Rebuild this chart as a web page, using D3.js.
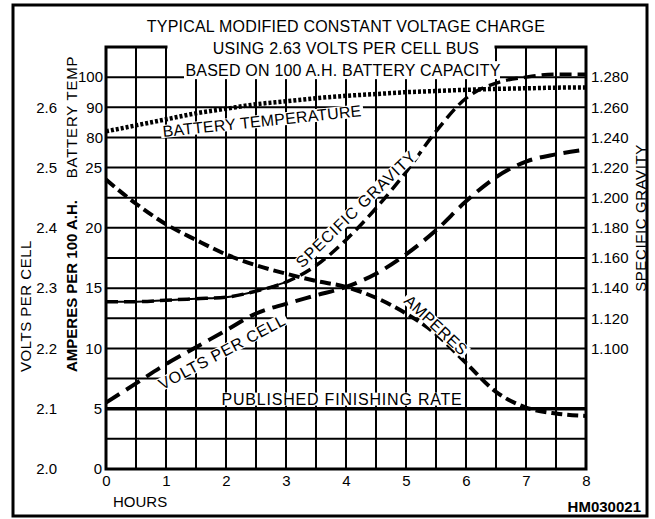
<!DOCTYPE html>
<html>
<head>
<meta charset="utf-8">
<script src="https://cdn.jsdelivr.net/npm/d3@7"></script>
<style>
  body { margin: 0; background: #fff; }
  svg text { font-family: "Liberation Sans", Arial, sans-serif; fill: #000; }
</style>
</head>
<body>
<div id="chart"></div>
<script>
// values, one point every half hour
var hours = [0, 0.5, 1, 1.5, 2, 2.5, 3, 3.5, 4, 4.5, 5, 5.5, 6, 6.5, 7, 7.5, 8];
var amperes = [24.0, 22.0, 20.3, 19.0, 17.8, 16.9, 16.2, 15.6, 15.1, 14.2, 12.9, 11.2, 8.8, 6.4, 5.1, 4.6, 4.4];
var voltsPerCell = [2.110, 2.142, 2.174, 2.202, 2.230, 2.258, 2.274, 2.288, 2.302, 2.324, 2.356, 2.396, 2.444, 2.484, 2.510, 2.522, 2.530];
var specificGravity = [1.131, 1.131, 1.132, 1.133, 1.134, 1.138, 1.144, 1.155, 1.172, 1.193, 1.217, 1.244, 1.266, 1.276, 1.280, 1.282, 1.282];
var batteryTemp = [82, 84, 86, 88, 89.5, 91, 92, 93, 93.8, 94.4, 95, 95.4, 95.8, 96.1, 96.3, 96.5, 96.6];
var finishingRate = 5;

var hourTicks = [0, 1, 2, 3, 4, 5, 6, 7, 8];
var ampTicks = [0, 5, 10, 15, 20, 25];
var voltTicks = [2.0, 2.1, 2.2, 2.3, 2.4, 2.5, 2.6];
var tempTicks = [80, 90, 100];
var sgTicks = [1.10, 1.12, 1.14, 1.16, 1.18, 1.20, 1.22, 1.24, 1.26, 1.28];

var titleLines = ["TYPICAL MODIFIED CONSTANT VOLTAGE CHARGE", "USING 2.63 VOLTS PER CELL BUS", "BASED ON 100 A.H. BATTERY CAPACITY"];

var svgWidth = 655;
var svgHeight = 519;

var svg = d3.select("#chart")
  .append("svg")
  .attr("width", svgWidth)
  .attr("height", svgHeight);

// scales: every left/right axis maps onto the same pixel range
var x = d3.scaleLinear().domain([0, 8]).range([106, 586]);
var yA = d3.scaleLinear().domain([0, 35]).range([469, 47]);
var yV = d3.scaleLinear().domain([2.0, 2.7]).range([469, 47]);
var yT = d3.scaleLinear().domain([-30, 110]).range([469, 47]);
var yS = d3.scaleLinear().domain([1.02, 1.30]).range([469, 47]);

// outer frame
svg.append("rect")
  .attr("x", 13).attr("y", 5)
  .attr("width", 634).attr("height", 511)
  .attr("fill", "none").attr("stroke", "#000").attr("stroke-width", 3);

// grid
var grid = svg.append("g").attr("stroke", "#000").attr("stroke-width", 2);
d3.range(0, 8.01, 0.5).forEach(function(h) {
  grid.append("line")
    .attr("x1", x(h)).attr("x2", x(h))
    .attr("y1", yA(0)).attr("y2", yA(35));
});
d3.range(0, 35.01, 2.5).forEach(function(a) {
  grid.append("line")
    .attr("x1", x(0)).attr("x2", x(8))
    .attr("y1", yA(a)).attr("y2", yA(a));
});
svg.append("rect")
  .attr("x", x(0)).attr("y", yA(35))
  .attr("width", x(8) - x(0)).attr("height", yA(0) - yA(35))
  .attr("fill", "none").attr("stroke", "#000").attr("stroke-width", 3);

// title sits on top of the grid with white behind it
svg.append("rect")
  .attr("x", x(1) + 1.5).attr("y", 0 + 7)
  .attr("width", x(6.5) - x(1) - 3).attr("height", yA(32.5) - 8.5)
  .attr("fill", "#fff");
svg.append("rect")
  .attr("x", 184).attr("y", yA(32.5) - 16)
  .attr("width", 316).attr("height", 18)
  .attr("fill", "#fff");

svg.selectAll(".title")
  .data(titleLines)
  .enter()
  .append("text")
  .attr("class", "title")
  .attr("x", function(d, i) { return i == 2 ? 343 : 346; })
  .attr("y", function(d, i) { return 32 + i * 22; })
  .attr("text-anchor", "middle")
  .attr("font-size", 16)
  .attr("letter-spacing", 0.2)
  .text(function(d) { return d; });

// axes
function plainAxis(g) {
  g.select(".domain").remove();
  g.selectAll("text").attr("font-size", 15).attr("font-family", '"Liberation Sans", Arial, sans-serif');
}

svg.append("g")
  .attr("transform", "translate(57,0)")
  .call(d3.axisLeft(yV).tickValues(voltTicks).tickSize(0).tickPadding(0).tickFormat(d3.format(".1f")))
  .call(plainAxis);

svg.append("g")
  .attr("transform", "translate(104,0)")
  .call(d3.axisLeft(yA).tickValues(ampTicks).tickSize(0).tickPadding(2))
  .call(plainAxis);

svg.append("g")
  .attr("transform", "translate(104,0)")
  .call(d3.axisLeft(yT).tickValues(tempTicks).tickSize(0).tickPadding(1))
  .call(plainAxis);

svg.append("g")
  .attr("transform", "translate(586,0)")
  .call(d3.axisRight(yS).tickValues(sgTicks).tickSize(0).tickPadding(5).tickFormat(d3.format(".3f")))
  .call(plainAxis);

svg.append("g")
  .attr("transform", "translate(0,469)")
  .call(d3.axisBottom(x).tickValues(hourTicks).tickSize(0).tickPadding(6).tickFormat(d3.format("d")))
  .call(plainAxis);

// axis titles
function sideLabel(text, cx, cy, bold, spacing) {
  svg.append("text")
    .attr("transform", "translate(" + cx + "," + cy + ") rotate(-90)")
    .attr("text-anchor", "middle")
    .attr("dy", "0.35em")
    .attr("font-size", 15)
    .attr("letter-spacing", spacing)
    .attr("font-weight", bold ? "bold" : "normal")
    .text(text);
}
sideLabel("VOLTS PER CELL", 26, 306, false, 0.5);
sideLabel("AMPERES PER 100 A.H.", 72, 286, true, 0);
sideLabel("BATTERY TEMP", 72, 117, false, 0.8);
sideLabel("SPECIFIC GRAVITY", 641, 218, false, 0.6);

svg.append("text")
  .attr("x", 113).attr("y", 507)
  .attr("font-size", 15)
  .text("HOURS");

svg.append("text")
  .attr("x", 641).attr("y", 512)
  .attr("text-anchor", "end")
  .attr("font-size", 15)
  .attr("font-weight", "bold")
  .text("HM030021");

// curves
var points = function(values, yScale) {
  return hours.map(function(h, i) { return [x(h), yScale(values[i])]; });
};
var line = d3.line().curve(d3.curveMonotoneX);

// published finishing rate
svg.append("line")
  .attr("x1", x(0)).attr("x2", x(8))
  .attr("y1", yA(finishingRate)).attr("y2", yA(finishingRate))
  .attr("stroke", "#000").attr("stroke-width", 3.5);

svg.append("path")
  .attr("d", line(points(batteryTemp, yT)))
  .attr("fill", "none").attr("stroke", "#000")
  .attr("stroke-width", 4.5).attr("stroke-dasharray", "3,2");

// thin underline on the early, flat part of the gravity curve
svg.append("path")
  .attr("d", line(points(specificGravity, yS).slice(0, 7)))
  .attr("fill", "none").attr("stroke", "#000").attr("stroke-width", 2);

svg.append("path")
  .attr("d", line(points(specificGravity, yS)))
  .attr("fill", "none").attr("stroke", "#000")
  .attr("stroke-width", 3.5).attr("stroke-dasharray", "12,6");

svg.append("path")
  .attr("d", line(points(voltsPerCell, yV)))
  .attr("fill", "none").attr("stroke", "#000")
  .attr("stroke-width", 4).attr("stroke-dasharray", "16,8");

svg.append("path")
  .attr("d", line(points(amperes, yA)))
  .attr("fill", "none").attr("stroke", "#000")
  .attr("stroke-width", 4).attr("stroke-dasharray", "11,5");

// curve labels on white patches
function curveLabel(text, cx, cy, angle, spacing) {
  var g = svg.append("g")
    .attr("transform", "translate(" + cx + "," + cy + ") rotate(" + angle + ")");
  var bg = g.append("rect").attr("fill", "#fff");
  var t = g.append("text")
    .attr("text-anchor", "middle")
    .attr("dy", "0.35em")
    .attr("font-size", 16)
    .attr("letter-spacing", spacing)
    .text(text);
  var b = t.node().getBBox();
  bg.attr("x", b.x - 2).attr("y", b.y + 2)
    .attr("width", b.width + 4).attr("height", b.height - 4);
}
curveLabel("BATTERY TEMPERATURE", 262, 121, -6, 0.2);
curveLabel("SPECIFIC GRAVITY", 356, 209, -44, 0.8);
curveLabel("VOLTS PER CELL", 222, 352, -28, 0.6);
curveLabel("AMPERES", 436, 325, 43, 0.2);
curveLabel("PUBLISHED FINISHING RATE", 342, 399, 0, 0.8);
</script>
</body>
</html>
